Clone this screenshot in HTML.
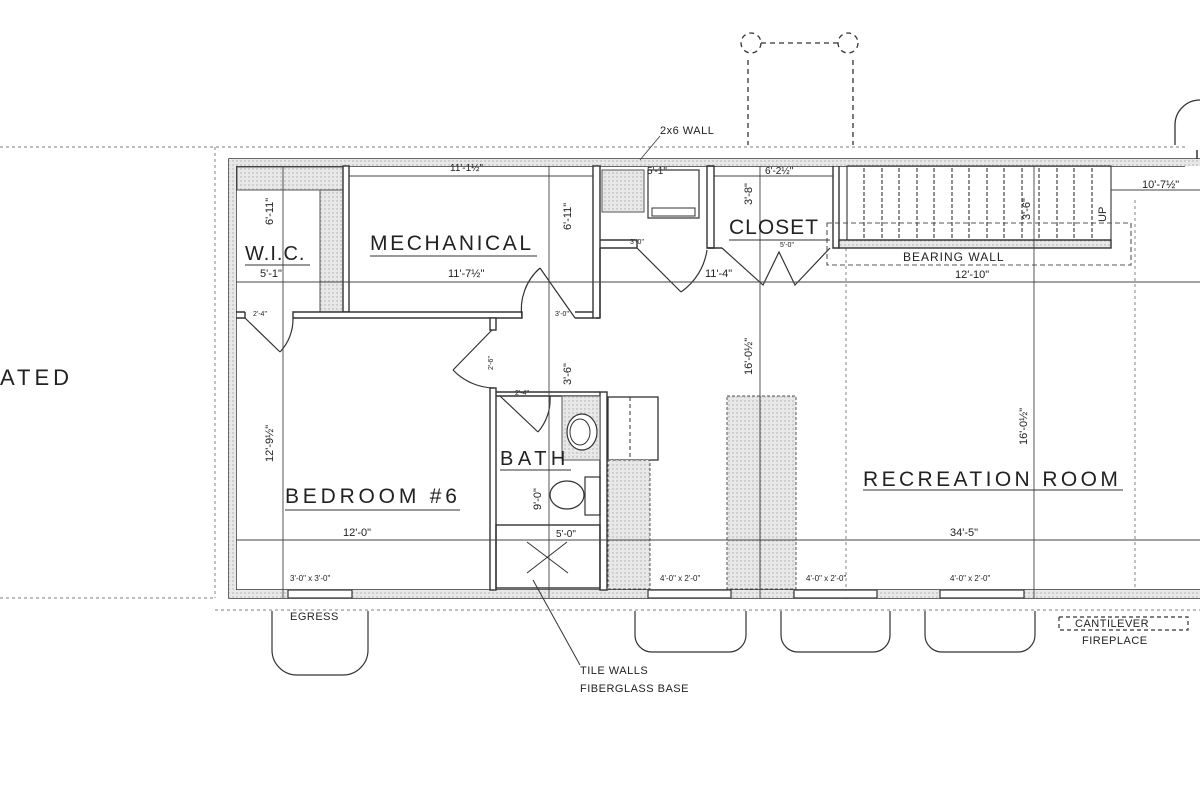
<!DOCTYPE html>
<html><head><meta charset="utf-8"><style>
html,body{margin:0;padding:0;background:#fff;}
svg{display:block;}
text{font-family:"Liberation Sans",sans-serif;fill:#222;}
</style></head><body>
<svg width="1200" height="800" viewBox="0 0 1200 800" xmlns="http://www.w3.org/2000/svg">
<defs>
<pattern id="h" width="4" height="4" patternUnits="userSpaceOnUse"><rect width="4" height="4" fill="#e8e8e8"/><circle cx="1" cy="1" r="0.7" fill="#aaa"/></pattern>
</defs>
<g fill="none" stroke="#333">
<g stroke="#999" stroke-dasharray="3,3" stroke-width="1.2">
<line x1="0" y1="147" x2="1185" y2="147"/>
<line x1="215" y1="147" x2="215" y2="598"/>
<line x1="0" y1="598" x2="215" y2="598"/>
<line x1="215" y1="610" x2="1200" y2="610"/>
<line x1="846" y1="248" x2="846" y2="600"/>
<line x1="1135" y1="200" x2="1135" y2="600"/>
</g>
<g stroke-dasharray="5,4" stroke-width="1.3">
<circle cx="751" cy="43" r="10"/><circle cx="848" cy="43" r="10"/>
<line x1="761" y1="43" x2="838" y2="43"/>
<line x1="748" y1="60" x2="748" y2="145"/>
<line x1="853" y1="60" x2="853" y2="145"/>
</g>
<path d="M1175 145 V125 A25 25 0 0 1 1200 100" stroke-width="1.3"/>
<g stroke-width="1.5">
<path d="M1200 159 H229 V598 H1200"/>
<path d="M1185 166 H236 V590 H1200"/>
<line x1="1185" y1="159" x2="1185" y2="166"/>
<line x1="1197" y1="150" x2="1197" y2="166"/>
</g>
<rect x="229" y="159" width="971" height="7" fill="url(#h)" stroke="none"/>
<rect x="229" y="590" width="971" height="8" fill="url(#h)" stroke="none"/>
<rect x="229" y="159" width="7" height="439" fill="url(#h)" stroke="none"/>
<rect x="237" y="167" width="106" height="23" fill="url(#h)" stroke="#555"/>
<rect x="320" y="190" width="23" height="122" fill="url(#h)" stroke="#555"/>
<g stroke-width="1.4">
<rect x="343" y="166" width="6" height="146" fill="#fff"/>
<path d="M236 312 H245 M236 318 H245 V312"/>
<path d="M293 312 H522 V318 H293 Z" fill="#fff"/>
<rect x="593" y="166" width="7" height="152" fill="#fff"/>
<path d="M575 312 H593 M575 318 H593"/>
<rect x="490" y="318" width="6" height="12" fill="#fff"/>
<rect x="490" y="388" width="6" height="202" fill="#fff"/>
<path d="M496 392 H600 M496 396 H600"/>
<rect x="600" y="392" width="7" height="198" fill="#fff"/>
<path d="M600 240 H637 V248 H600 M707 166 V248 H714 V166 Z"/>
<path d="M707 248 H722 M833 166 V248 H839 V166"/>
<rect x="839" y="240" width="272" height="8" fill="url(#h)"/>
<path d="M596 318 H600 M600 248 V318"/>
</g>
<g stroke-width="1.2">
<path d="M245 318 L280 352 M280 352 A48 48 0 0 0 293 318"/>
<path d="M575 318 L540 268 M540 268 A55 55 0 0 0 522 318"/>
<path d="M492 330 L453 370 M453 370 A58 58 0 0 0 494 388"/>
<path d="M500 396 L538 432 M538 432 A50 50 0 0 0 550 396"/>
<path d="M637 248 L681 292 M681 292 A62 62 0 0 0 707 250"/>
<path d="M722 248 L763 285 L779 252 L795 285 L830 248"/>
</g>
<rect x="602" y="170" width="42" height="42" fill="url(#h)" stroke="#555"/>
<rect x="648" y="170" width="51" height="48" stroke-width="1.2"/>
<rect x="652" y="208" width="43" height="8" stroke-width="1"/>
<g stroke-width="1.1">
<rect x="847" y="166" width="264" height="74"/>
<g stroke-dasharray="4,2">
<line x1="864" y1="168" x2="864" y2="240"/><line x1="882" y1="168" x2="882" y2="240"/><line x1="899" y1="168" x2="899" y2="240"/><line x1="917" y1="168" x2="917" y2="240"/><line x1="934" y1="168" x2="934" y2="240"/><line x1="952" y1="168" x2="952" y2="240"/><line x1="969" y1="168" x2="969" y2="240"/><line x1="987" y1="168" x2="987" y2="240"/><line x1="1004" y1="168" x2="1004" y2="240"/><line x1="1022" y1="168" x2="1022" y2="240"/><line x1="1039" y1="168" x2="1039" y2="240"/><line x1="1057" y1="168" x2="1057" y2="240"/><line x1="1074" y1="168" x2="1074" y2="240"/><line x1="1092" y1="168" x2="1092" y2="240"/>
</g>
<rect x="827" y="223" width="304" height="42" stroke-dasharray="5,3" stroke="#555"/>
</g>
<rect x="562" y="396" width="38" height="64" fill="url(#h)" stroke="#555"/>
<ellipse cx="582" cy="432" rx="15" ry="18" fill="#fff" stroke-width="1.2"/>
<ellipse cx="580" cy="432" rx="10" ry="13" stroke-width="1"/>
<ellipse cx="567" cy="495" rx="17" ry="14" stroke-width="1.2"/>
<rect x="585" y="477" width="15" height="38" stroke-width="1.2"/>
<rect x="496" y="525" width="104" height="63" stroke-width="1.4"/>
<path d="M527 542 L568 573 M567 542 L527 573"/>
<path d="M533 580 L580 665" stroke-width="1"/>
<rect x="608" y="397" width="50" height="63" stroke-width="1.3"/>
<line x1="630" y1="397" x2="630" y2="588" stroke-dasharray="4,3"/>
<rect x="608" y="460" width="42" height="129" fill="url(#h)" stroke="#555" stroke-dasharray="3,2"/>
<rect x="727" y="396" width="69" height="193" fill="url(#h)" stroke="#555" stroke-dasharray="3,2"/>
<line x1="760" y1="396" x2="760" y2="589"/>
<g stroke-width="1.2">
<rect x="288" y="590" width="64" height="8" fill="#fff"/>
<rect x="648" y="590" width="83" height="8" fill="#fff"/>
<rect x="794" y="590" width="83" height="8" fill="#fff"/>
<rect x="940" y="590" width="84" height="8" fill="#fff"/>
<path d="M272 611 V650 A25 25 0 0 0 297 675 H343 A25 25 0 0 0 368 650 V611"/>
<path d="M635 611 V635 A17 17 0 0 0 652 652 H729 A17 17 0 0 0 746 635 V611"/>
<path d="M781 611 V635 A17 17 0 0 0 798 652 H873 A17 17 0 0 0 890 635 V611"/>
<path d="M925 611 V635 A17 17 0 0 0 942 652 H1018 A17 17 0 0 0 1035 635 V611"/>
<path d="M1059 617 V630 H1188 V617 H1059" stroke-dasharray="4,3"/>
</g>
<g stroke-width="0.9" stroke="#444">
<line x1="236" y1="282" x2="1200" y2="282"/>
<line x1="236" y1="540" x2="1200" y2="540"/>
<line x1="283" y1="166" x2="283" y2="598"/>
<line x1="549" y1="166" x2="549" y2="598"/>
<line x1="760" y1="166" x2="760" y2="598"/>
<line x1="1034" y1="166" x2="1034" y2="598"/>
<line x1="349" y1="176" x2="593" y2="176"/>
<line x1="714" y1="176" x2="833" y2="176"/>
<line x1="1111" y1="190" x2="1200" y2="190"/>
<line x1="660" y1="136" x2="640" y2="160"/>
</g>
</g>
<text x="0" y="385" font-size="22" letter-spacing="4">ATED</text>
<text x="370" y="250" font-size="21" letter-spacing="2.6">MECHANICAL</text>
<line x1="370" y1="256" x2="537" y2="256" stroke="#333"/>
<text x="245" y="260" font-size="20" letter-spacing="1">W.I.C.</text>
<line x1="245" y1="265" x2="310" y2="265" stroke="#333"/>
<text x="729" y="234" font-size="21" letter-spacing="1">CLOSET</text>
<line x1="729" y1="240" x2="830" y2="240" stroke="#333"/>
<text x="285" y="503" font-size="21" letter-spacing="3.8">BEDROOM #6</text>
<line x1="285" y1="510" x2="460" y2="510" stroke="#333"/>
<text x="500" y="465" font-size="20" letter-spacing="4.5">BATH</text>
<line x1="500" y1="470" x2="571" y2="470" stroke="#333"/>
<text x="863" y="486" font-size="21" letter-spacing="3.4">RECREATION ROOM</text>
<line x1="863" y1="490" x2="1123" y2="490" stroke="#333"/>
<g font-size="11">
<text x="260" y="277">5'-1"</text>
<text x="448" y="277">11'-7½"</text>
<text x="450" y="171" font-size="10">11'-1½"</text>
<text x="765" y="174" font-size="10">6'-2½"</text>
<text x="647" y="174" font-size="10">5'-1"</text>
<text x="705" y="277">11'-4"</text>
<text x="955" y="278">12'-10"</text>
<text x="1142" y="188">10'-7½"</text>
<text x="903" y="261" font-size="12" letter-spacing="1">BEARING WALL</text>
<text x="343" y="536">12'-0"</text>
<text x="950" y="536">34'-5"</text>
<text x="660" y="581" font-size="8">4'-0" x 2'-0"</text>
<text x="806" y="581" font-size="8">4'-0" x 2'-0"</text>
<text x="950" y="581" font-size="8">4'-0" x 2'-0"</text>
<text x="290" y="581" font-size="8">3'-0" x 3'-0"</text>
<text x="556" y="537" font-size="10">5'-0"</text>
<text x="290" y="620" font-size="11" letter-spacing="0.5">EGRESS</text>
<text x="1075" y="627" font-size="11" letter-spacing="0.5">CANTILEVER</text>
<text x="1082" y="644" font-size="11" letter-spacing="0.5">FIREPLACE</text>
<text x="580" y="674" font-size="11" letter-spacing="0.5">TILE WALLS</text>
<text x="580" y="692" font-size="11" letter-spacing="0.5">FIBERGLASS BASE</text>
<text x="660" y="134" font-size="11" letter-spacing="0.5">2x6 WALL</text>
<text x="253" y="316" font-size="7">2'-4"</text>
<text x="555" y="316" font-size="7">3'-0"</text>
<text x="630" y="244" font-size="7">3'-0"</text>
<text x="780" y="247" font-size="7">5'-0"</text>
<text x="515" y="395" font-size="7">2'-4"</text>
<text transform="translate(273,225) rotate(-90)" font-size="11">6'-11"</text>
<text transform="translate(273,462) rotate(-90)" font-size="11">12'-9½"</text>
<text transform="translate(571,230) rotate(-90)" font-size="11">6'-11"</text>
<text transform="translate(571,385) rotate(-90)" font-size="11">3'-6"</text>
<text transform="translate(541,510) rotate(-90)" font-size="11">9'-0"</text>
<text transform="translate(493,370) rotate(-90)" font-size="7">2'-6"</text>
<text transform="translate(752,375) rotate(-90)" font-size="11">16'-0½"</text>
<text transform="translate(1027,445) rotate(-90)" font-size="11">16'-0½"</text>
<text transform="translate(752,205) rotate(-90)" font-size="11">3'-8"</text>
<text transform="translate(1030,220) rotate(-90)" font-size="11">3'-6"</text>
<text transform="translate(1106,222) rotate(-90)" font-size="11">UP</text>
</g>
</svg>
</body></html>
